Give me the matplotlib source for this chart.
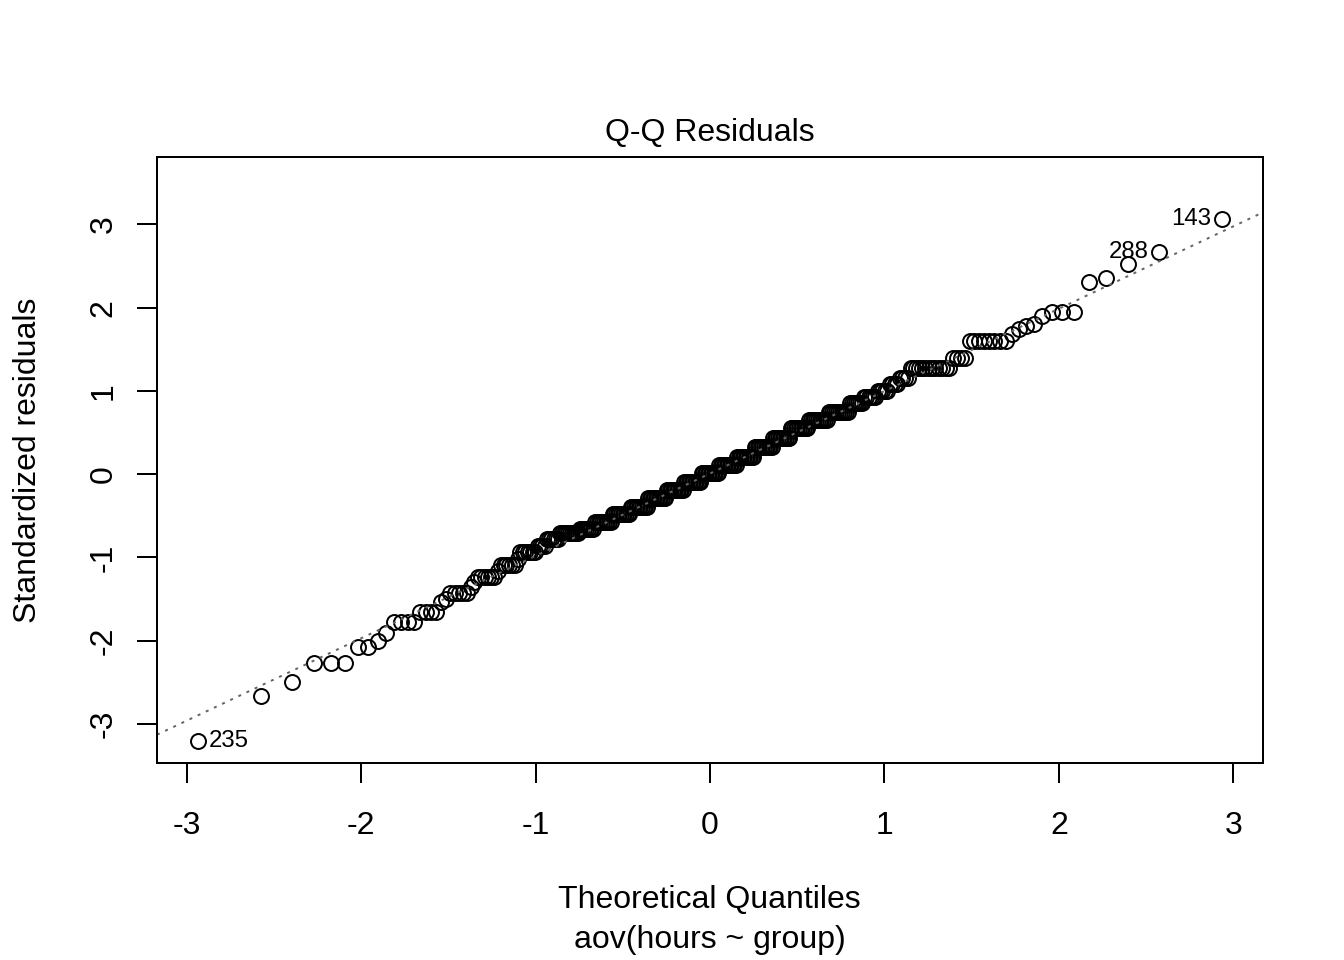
import matplotlib
matplotlib.use("Agg")
import matplotlib.pyplot as plt
import numpy as np
from statistics import NormalDist

plt.rcParams['font.family'] = ['Liberation Sans', 'DejaVu Sans']
plt.rcParams['axes.unicode_minus'] = False

levels = [-3.20, -2.66, -2.50, -2.27, -2.08, -2.01, -1.91, -1.77, -1.66, -1.54,
          -1.50, -1.43, -1.36, -1.30, -1.24, -1.16, -1.09, -1.02, -0.94, -0.86,
          -0.78, -0.71, -0.66,
          -0.58, -0.48, -0.39, -0.29, -0.19, -0.09, 0.01, 0.11, 0.21, 0.33,
          0.44, 0.55, 0.65, 0.75,
          0.85, 0.93, 1.00, 1.08, 1.16, 1.28, 1.40,
          1.60, 1.68, 1.74, 1.78, 1.80, 1.90, 1.95, 2.31, 2.36, 2.53,
          2.67, 3.07]
counts = [1, 1, 1, 3, 2, 1, 1, 4, 4, 1,
          1, 5, 1, 1, 6, 1, 6, 1, 7, 4,
          6, 10, 8,
          10, 11, 11, 12, 12, 12, 12, 12, 12, 12,
          11, 11, 11, 11,
          7, 6, 5, 4, 4, 13, 4,
          8, 1, 1, 1, 1, 1, 3, 1, 1, 1,
          1, 1]
# observation numbers of the three labelled points
labelled = {235: -3.20, 288: 2.67, 143: 3.07}

y = np.repeat(levels, counts)
n = len(y)
nd = NormalDist()
a = 3 / 8 if n <= 10 else 0.5
x = np.array([nd.inv_cdf((i + 1 - a) / (n + 1 - 2 * a)) for i in range(n)])

# qqline through the quartiles
q1, q3 = np.percentile(y, [25, 75])
slope = (q3 - q1) / (nd.inv_cdf(0.75) - nd.inv_cdf(0.25))
intercept = q1 - slope * nd.inv_cdf(0.25)

fig = plt.figure(figsize=(7, 5), dpi=192)
ax = fig.add_axes([0.1168, 0.2052, 0.8229, 0.6313])

ax.plot(x, y, 'o', mfc='none', mec='black', ms=5.6, mew=0.75)
ax.axline((0, intercept), slope=slope, color='#666666', lw=0.75,
          linestyle=(0, (1.5, 3)))

for num, val in labelled.items():
    i = int(np.argmin(np.abs(y - val)))
    if x[i] > 0:
        ax.annotate(str(num), (x[i], y[i]), xytext=(-4, 0), textcoords='offset points',
                    ha='right', va='center', fontsize=9)
    else:
        ax.annotate(str(num), (x[i], y[i]), xytext=(4, 0), textcoords='offset points',
                    ha='left', va='center', fontsize=9)

xr = x.max() - x.min()
ax.set_xlim(x.min() - 0.04 * xr, x.max() + 0.04 * xr)
ylo, yhi = y.min(), y.max()
yhi = yhi + (yhi - ylo) * 0.075
yr = yhi - ylo
ax.set_ylim(ylo - 0.04 * yr, yhi + 0.04 * yr)

ax.set_xticks(range(-3, 4))
ax.set_yticks(range(-3, 4))
ax.tick_params(direction='out', length=7.5, width=0.75, labelsize=12)
ax.tick_params(axis='x', pad=10.5)
ax.tick_params(axis='y', pad=7)
for lab in ax.get_yticklabels():
    lab.set_rotation(90)
    lab.set_va('center')
for s in ax.spines.values():
    s.set_linewidth(0.75)

ax.set_title('Q-Q Residuals', fontsize=12, pad=6)
ax.set_ylabel('Standardized residuals', fontsize=12, labelpad=17)
fig.text(0.528, 0.0625, 'Theoretical Quantiles', ha='center', va='center', fontsize=12)
fig.text(0.528, 0.0208, 'aov(hours ~ group)', ha='center', va='center', fontsize=12)

fig.savefig('out.png', dpi=192)
